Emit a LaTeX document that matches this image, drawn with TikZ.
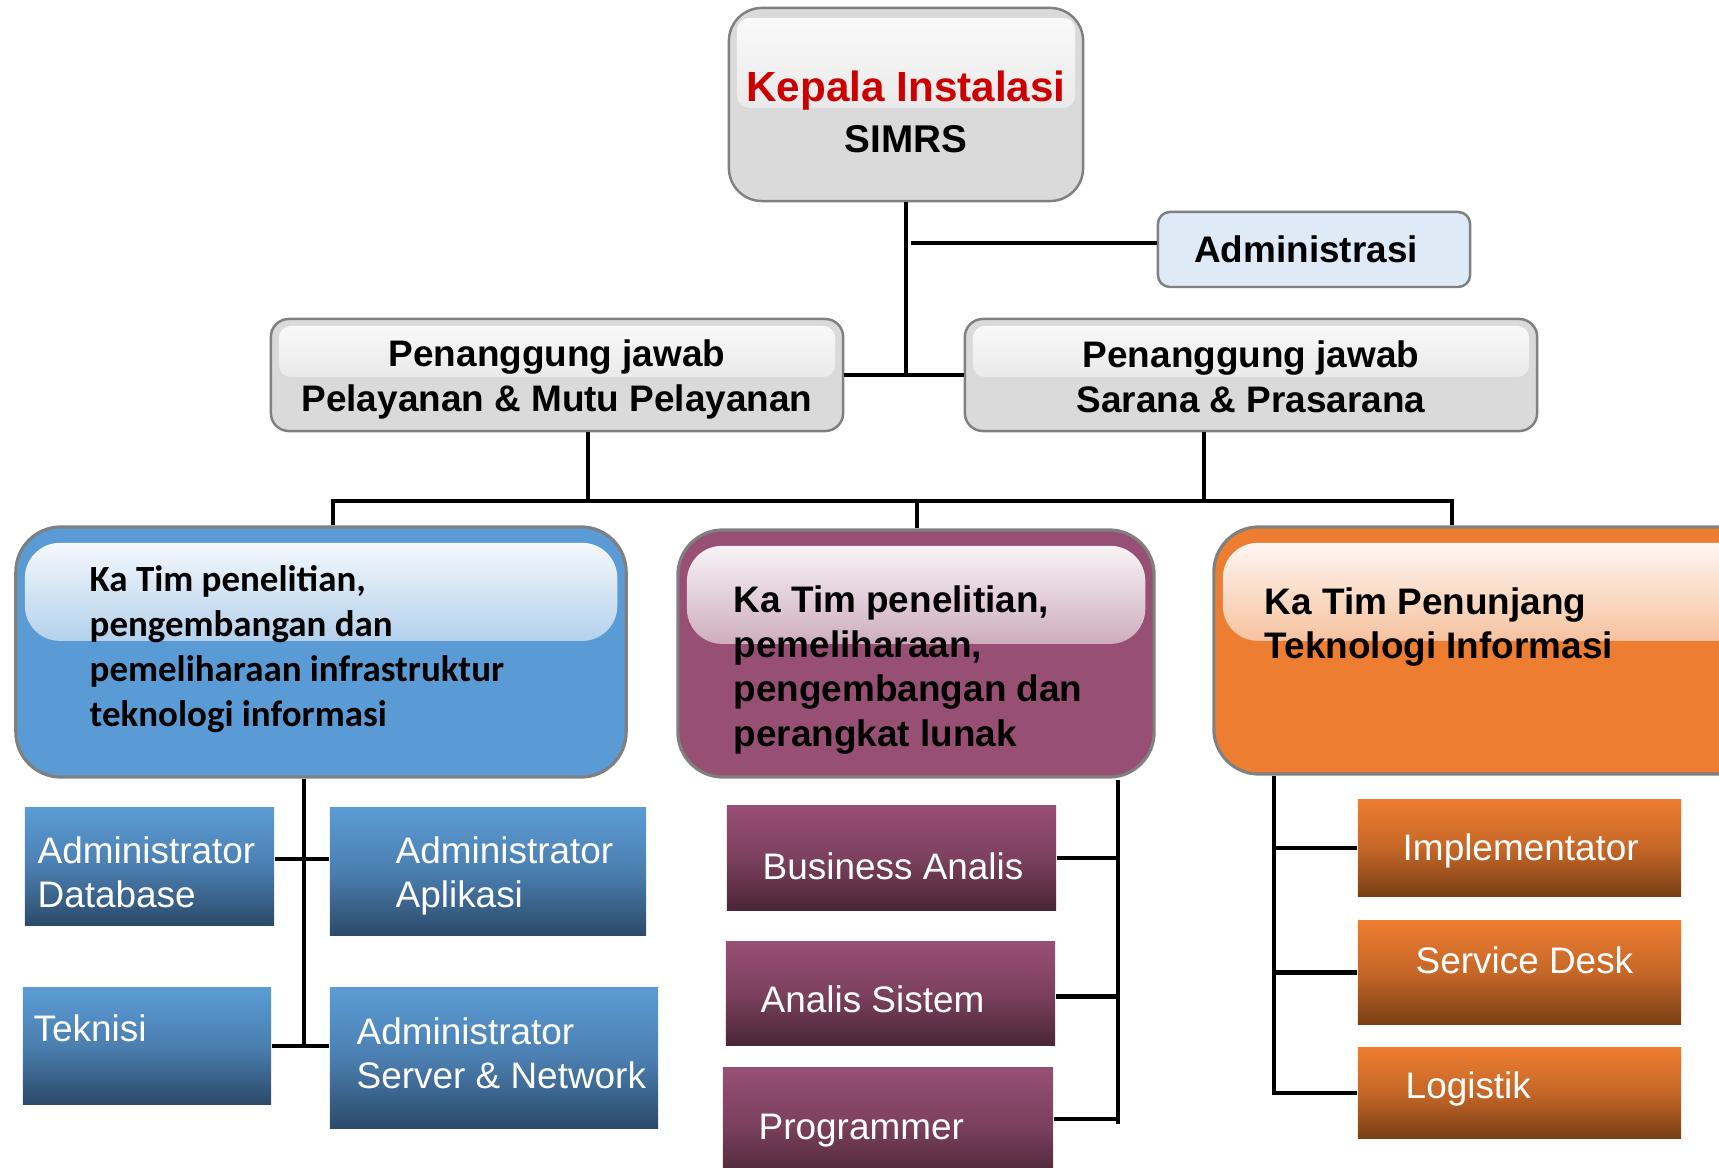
\documentclass[tikz,border=0pt]{standalone}
\usepackage{fontspec}
\setmainfont{Liberation Sans}
\newfontfamily\calfont{Carlito}
\usetikzlibrary{calc,fadings}
\definecolor{blueC}{HTML}{5B9BD5}
\definecolor{blueD}{HTML}{2C4A6A}
\definecolor{purC}{HTML}{974F73}
\definecolor{purD}{HTML}{4A2637}
\definecolor{orgC}{HTML}{ED7D31}
\definecolor{orgD}{HTML}{7A3E16}
\definecolor{grayF}{HTML}{DADADA}
\definecolor{grayB}{HTML}{808080}
\definecolor{adminF}{HTML}{DEEAF6}
\definecolor{redT}{HTML}{CC0000}
\begin{document}
\begin{tikzpicture}[x=0.01cm,y=-0.01cm,
  conn/.style={line width=1.3pt, draw=black},
  graybox/.style 2 args={draw=grayB, line width=0.7pt, fill=grayF, inner sep=0pt,
    path picture={\fill[white, fill opacity=0.9, path fading=south, rounded corners=0.12cm]
      ($(path picture bounding box.north west)+(8,#1)$) rectangle
      ($(path picture bounding box.north east)+(-8,#2)$);}},
  team/.style={draw=grayB, line width=0.9pt, fill=#1, rounded corners=0.45cm, inner sep=0pt,
    path picture={\fill[white, path fading=south, rounded corners=0.35cm]
      ($(path picture bounding box.north west)+(9,16)$) rectangle
      ($(path picture bounding box.north east)+(-9,114)$);}},
  low/.style 2 args={top color=#1, bottom color=#2, middle color=#1!65!#2, inner sep=0pt},
  hdr/.style={font=\bfseries\fontsize{10.5}{12.8}\selectfont, align=center, inner sep=0pt},
  teamtxt/.style={font=\bfseries\fontsize{10.5}{12.7}\selectfont, anchor=west, align=left, inner sep=0pt, text=black},
  lowtxt/.style={font=\fontsize{10.5}{12.6}\selectfont, anchor=west, align=left, inner sep=0pt, text=white},
]
\clip (0,0) rectangle (1719,1168);
\fill[white] (0,0) rectangle (1719,1168);

% top level
\node[graybox={10}{100}, rounded corners=0.33cm, minimum width=3.54cm, minimum height=1.93cm] (top) at (906,104.5) {};
\node[font=\bfseries\fontsize{12}{14}\selectfont, text=redT, inner sep=0pt] (topA) at (906,91) {Kepala Instalasi};
\node[font=\bfseries\fontsize{11}{13}\selectfont, inner sep=0pt] (topB) at (906,139) {SIMRS};

\node[draw=grayB, line width=0.7pt, fill=adminF, rounded corners=0.12cm, minimum width=3.12cm, minimum height=0.75cm] (adm) at (1314,249.5) {};
\node[font=\bfseries\fontsize{10.5}{12}\selectfont, inner sep=0pt] (admT) at (1306,249) {Administrasi};

\node[graybox={7}{58}, rounded corners=0.18cm, minimum width=5.72cm, minimum height=1.12cm] (pjL) at (557,375) {};
\node[hdr] (pjLT) at (557,379) {Penanggung jawab\\Pelayanan \& Mutu Pelayanan};
\node[graybox={7}{58}, rounded corners=0.18cm, minimum width=5.72cm, minimum height=1.12cm] (pjR) at (1251,375) {};
\node[hdr] (pjRT) at (1251,377) {Penanggung jawab\\Sarana \& Prasarana};

% team boxes
\node[team=blueC, minimum width=6.10cm, minimum height=2.50cm] (tBlue) at (321,652) {};
\node[teamtxt, font=\calfont\bfseries\fontsize{10.5}{12.8}\selectfont] (tBlueT) at (89,649)
  {Ka Tim penelitian,\\pengembangan dan\\pemeliharaan infrastruktur\\teknologi informasi};
\node[team=purC, minimum width=4.76cm, minimum height=2.47cm] (tPur) at (916,653.5) {};
\node[teamtxt] (tPurT) at (733,670)
  {Ka Tim penelitian,\\pemeliharaan,\\pengembangan dan\\perangkat lunak};
\node[team=orgC, minimum width=5.52cm, minimum height=2.47cm] (tOrg) at (1490,650.5) {};
\node[teamtxt] (tOrgT) at (1264,627) {Ka Tim Penunjang\\Teknologi Informasi};

% blue lower boxes
\node[low={blueC}{blueD}, minimum width=2.49cm, minimum height=1.17cm] (db) at (149.5,866.5) {};
\node[lowtxt] (dbT) at (37,872) {Administrator\\Database};
\node[low={blueC}{blueD}, minimum width=3.16cm, minimum height=1.27cm] (apl) at (488,871.5) {};
\node[lowtxt] (aplT) at (395,876) {Administrator\\Aplikasi};
\node[low={blueC}{blueD}, minimum width=2.48cm, minimum height=1.16cm] (tek) at (147,1046) {};
\node[lowtxt] (tekT) at (33,1028) {Teknisi};
\node[low={blueC}{blueD}, minimum width=3.28cm, minimum height=1.40cm] (srv) at (494,1058) {};
\node[lowtxt] (srvT) at (356,1053.5) {Administrator\\Server \& Network};

% purple lower boxes
\node[low={purC}{purD}, minimum width=3.29cm, minimum height=1.04cm] (ba) at (891.5,858) {};
\node[lowtxt] (baT) at (762,866) {Business Analis};
\node[low={purC}{purD}, minimum width=3.29cm, minimum height=1.03cm] (as) at (890.5,993.5) {};
\node[lowtxt] (asT) at (760,999) {Analis Sistem};
\node[low={purC}{purD}, minimum width=3.30cm, minimum height=1.12cm] (pr) at (888,1124) {};
\node[lowtxt] (prT) at (758,1131) {Programmer};

% orange lower boxes
\node[low={orgC}{orgD}, minimum width=3.23cm, minimum height=0.96cm] (im) at (1519.5,848) {};
\node[lowtxt] (imT) at (1402,851) {Implementator};
\node[low={orgC}{orgD}, minimum width=3.23cm, minimum height=1.03cm] (sd) at (1519.5,972.5) {};
\node[lowtxt] (sdT) at (1415,960) {Service Desk};
\node[low={orgC}{orgD}, minimum width=3.23cm, minimum height=0.90cm] (lg) at (1519.5,1093) {};
\node[lowtxt] (lgT) at (1405,1089) {Logistik};

% connectors: top level
\draw[conn] (top.south) -- (top.south |- pjL.east);
\draw[conn] (pjL.east) -- (pjR.west);
\coordinate (admY) at (0,243);
\draw[conn] ($(top.south |- admY)+(5,0)$) -- (adm.west |- admY);

% bar to teams
\coordinate (bar) at (0,501);
\coordinate (dL) at ($(pjL.south)+(31,0)$);
\coordinate (dR) at ($(pjR.south)+(-47,0)$);
\coordinate (d1) at ($(tBlue.north)+(12,0)$);
\coordinate (d2) at ($(tPur.north)+(1,0)$);
\coordinate (d3) at ($(tOrg.north)+(-38,0)$);
\draw[conn] (dL) -- (dL |- bar);
\draw[conn] (dR) -- (dR |- bar);
\draw[conn] (d1) -- (d1 |- bar) -- (d3 |- bar) -- (d3);
\draw[conn] (d2) -- (d2 |- bar);

% blue group
\coordinate (bv) at ($(tBlue.south)+(-17,0)$);
\coordinate (bh1) at (304,859);
\coordinate (bh2) at (304,1046);
\draw[conn] (bv) -- (bh2);
\draw[conn] (db.east |- bh1) -- (apl.west |- bh1);
\draw[conn] (tek.east |- bh2) -- (srv.west |- bh2);

% purple group
\coordinate (pv1) at (1118,780);
\coordinate (pv2) at (1118,1124);
\draw[conn] (pv1) -- (pv2);
\draw[conn] (ba.east) -- (ba.east -| pv1);
\draw[conn] ($(as.east)+(0,3)$) -- ($(as.east -| pv1)+(0,3)$);
\draw[conn] ($(pr.east)+(0,-5)$) -- ($(pr.east -| pv1)+(0,-5)$);

% orange group
\coordinate (ov) at ($(tOrg.south)+(-216,0)$);
\coordinate (ovE) at (1274,1095);
\draw[conn] (ov) -- (ovE);
\draw[conn] (im.west -| ov) -- (im.west);
\draw[conn] (sd.west -| ov) -- (sd.west);
\draw[conn] (lg.west -| ov) -- (lg.west);
\end{tikzpicture}
\end{document}
